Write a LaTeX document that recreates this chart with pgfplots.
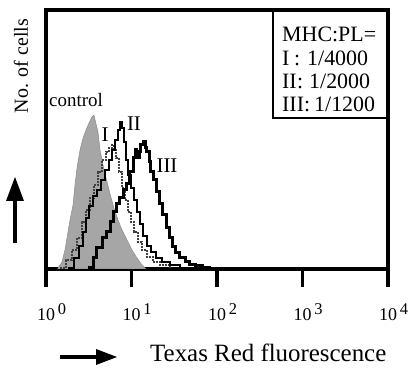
\documentclass[border=0pt]{standalone}
\usepackage{pgfplots}
\pgfplotsset{compat=1.18}
\usepackage{fontspec}
\setmainfont{Liberation Serif}
\begin{document}
\begin{tikzpicture}
\useasboundingbox (0,0) rectangle (420bp,372bp);
\begin{axis}[at={(46bp,103bp)}, anchor=south west, scale only axis,
  width=342bp, height=259bp,
  xmin=0, xmax=4, ymin=0, ymax=259,
  axis line style={line width=3.5bp},
  xtick={0,1,2,3,4}, xticklabels=\empty, ytick=\empty,
  xtick pos=bottom, tick align=outside, major tick length=18bp,
  tick style={line width=3.2bp, black}]
% control (filled)
\addplot[draw=black!45, fill=black!35, line width=0.5bp] coordinates {
(0.14,1)(0.187,7)(0.222,19)(0.257,37)(0.281,49)(0.316,64)(0.339,84)(0.363,101)
(0.398,119)(0.433,131)(0.468,139)(0.503,146)(0.538,152)(0.561,154)(0.585,145)
(0.608,137)(0.632,119)(0.667,104)(0.702,91)(0.749,75)(0.795,61)(0.842,49)
(0.889,39)(0.947,29)(1.006,19)(1.064,11)(1.123,4)(1.170,0)} \closedcycle;
% I
\addplot[const plot, black!75, line width=2bp, dash pattern=on 2bp off 1bp] coordinates {
(0.164,1)(0.234,9)(0.304,19)(0.363,31)(0.421,47)(0.468,59)(0.515,71)(0.561,84)
(0.608,97)(0.655,109)(0.702,117)(0.737,121)(0.772,124)(0.795,119)(0.819,111)
(0.854,97)(0.889,81)(0.924,69)(0.959,57)(0.994,47)(1.029,37)(1.076,27)(1.123,19)
(1.181,12)(1.251,7)(1.333,4)(1.450,1)};
% II
\addplot[const plot, black, line width=1.8bp] coordinates {
(0.257,1)(0.327,11)(0.386,23)(0.433,37)(0.468,51)(0.503,63)(0.550,73)(0.596,79)
(0.643,89)(0.690,99)(0.737,109)(0.772,119)(0.807,129)(0.842,139)(0.865,147)
(0.889,141)(0.912,127)(0.936,109)(0.959,94)(0.994,81)(1.029,69)(1.064,57)
(1.099,45)(1.135,33)(1.181,23)(1.228,17)(1.287,11)(1.357,7)(1.450,4)(1.567,1)};
% III
\addplot[const plot, black, line width=3bp] coordinates {
(0.491,1)(0.550,11)(0.596,21)(0.655,31)(0.713,37)(0.749,47)(0.784,57)(0.830,65)
(0.865,71)(0.912,79)(0.947,85)(0.982,97)(1.018,111)(1.041,119)(1.064,111)
(1.088,117)(1.111,124)(1.135,127)(1.158,121)(1.181,117)(1.205,107)(1.228,97)
(1.263,89)(1.298,77)(1.333,65)(1.368,54)(1.404,41)(1.439,31)(1.474,22)(1.520,16)
(1.567,11)(1.626,7)(1.684,4)(1.754,3)(1.825,1)(1.918,0)};
\end{axis}
\begin{scope}[x=1bp, y=-1bp, yshift=372bp, every node/.append style={inner sep=0pt}]
% tick labels
\foreach \i/\px in {0/46,1/131.5,2/217,3/302.5,4/388}
  \node[anchor=base] at (\px,321) {\fontsize{18}{18}\selectfont 10\rlap{\hspace{3bp}\raisebox{6bp}{\fontsize{16.5}{16.5}\selectfont\i}}};
% x label with arrow
\node[anchor=base west] at (150,362) {\fontsize{25}{30}\selectfont Texas Red fluorescence};
\draw[line width=4bp] (60,357) -- (98,357);
\fill (117,357) -- (96,349) -- (96,365) -- cycle;
% y label with arrow
\node[rotate=90, anchor=center] at (21,66) {\fontsize{20}{24}\selectfont No. of cells};
\fill (15,177) -- (24,201) -- (6,201) -- cycle;
\draw[line width=4bp] (15,199) -- (15,243);
% curve labels
\node[anchor=base west] at (49,107) {\fontsize{19}{19}\selectfont control};
\node[anchor=base] at (105,142) {\fontsize{21}{21}\selectfont I};
\node[anchor=base] at (134,131) {\fontsize{21}{21}\selectfont II};
\node[anchor=base] at (167,173) {\fontsize{21}{21}\selectfont III};
% legend box
\draw[line width=2bp] (273,10) -- (273,118) -- (388,118);
\begin{scope}[every node/.append style={font=\fontsize{22}{22}\selectfont}]
\node[anchor=base west] at (282,42) {MHC:PL=};
\node[anchor=base west] at (282,66) {I};
\node[anchor=base west] at (294,66) {:};
\node[anchor=base west] at (307,66) {1/4000};
\node[anchor=base west] at (282,89) {II};
\node[anchor=base west] at (297,89) {:};
\node[anchor=base west] at (309,89) {1/2000};
\node[anchor=base west] at (282,112) {III:};
\node[anchor=base west] at (314,112) {1/1200};
\end{scope}
\end{scope}
\end{tikzpicture}
\end{document}
